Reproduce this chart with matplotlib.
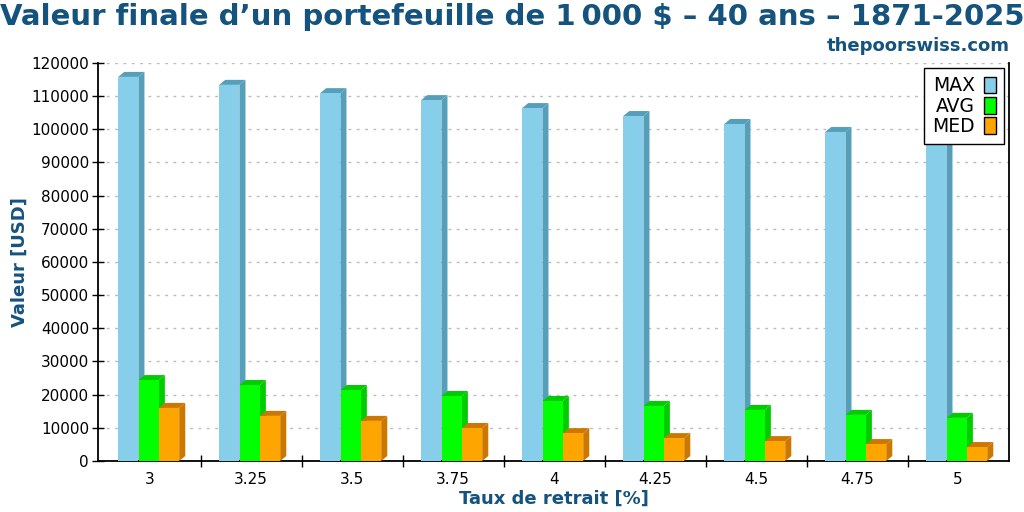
import matplotlib
matplotlib.use('Agg')
from matplotlib import pyplot as plt
from matplotlib.patches import Polygon, Patch
import numpy as np

# values
rates = ['3', '3.25', '3.5', '3.75', '4', '4.25', '4.5', '4.75', '5']
max_vals = [115800, 113400, 110900, 108800, 106400, 104000, 101600, 99200, 96800]
avg_vals = [24400, 22900, 21400, 19600, 18100, 16600, 15400, 13900, 13000]
med_vals = [16000, 13600, 12100, 9950, 8400, 6900, 6000, 5100, 4200]

series = [('MAX', max_vals, '#87ceeb', '#569fbb'),
          ('AVG', avg_vals, '#00ff00', '#00cc00'),
          ('MED', med_vals, '#ffa500', '#cc7700')]

blue = '#15537f'
width = 0.2
dx = 0.06      # depth in x (data units)
dy = 1510      # depth in y (data units)

fig = plt.figure(figsize=(10.24, 5.12), dpi=100)
ax = fig.add_axes([0.0957, 0.0996, 0.8897, 0.7774])

x = np.arange(len(rates))
z = 2
for i, (name, vals, front, dark) in enumerate(series):
    for xc, h in zip(x, vals):
        x0 = xc - 0.315 + i * 0.202
        x1 = x0 + width
        side = Polygon([(x1, 0), (x1 + dx, dy), (x1 + dx, h + dy), (x1, h)],
                       closed=True, facecolor=dark, edgecolor='none', zorder=z)
        top = Polygon([(x0, h), (x1, h), (x1 + dx, h + dy), (x0 + dx, h + dy)],
                      closed=True, facecolor=dark, edgecolor='none', zorder=z)
        ax.add_patch(side)
        ax.add_patch(top)
    ax.bar(x - 0.315 + i * 0.202, vals, width=width, align='edge',
           color=front, zorder=z + 1)
    z += 2

ax.set_xlim(-0.515, 8.505)
ax.set_ylim(0, 120000)
ax.set_yticks(np.arange(0, 120001, 10000))
ax.set_xticks(x)
ax.set_xticklabels(rates)
ax.set_xticks(np.arange(0.5, 8, 1), minor=True)
ax.tick_params(axis='x', which='major', length=0, labelsize=11, pad=8)
ax.tick_params(axis='x', which='minor', direction='inout', length=9, width=1)
ax.tick_params(axis='y', direction='inout', length=9, width=1, labelsize=11, pad=2)
ax.grid(axis='y', linestyle=(0, (2, 4)), color='#bbbbbb', linewidth=1, zorder=0)
ax.set_axisbelow(True)
ax.spines['top'].set_visible(False)
for s in ['left', 'right', 'bottom']:
    ax.spines[s].set_linewidth(1.3)

ax.set_xlabel('Taux de retrait [%]', fontsize=13, fontweight='bold', color=blue, labelpad=2)
ax.set_ylabel('Valeur [USD]', fontsize=13, fontweight='bold', color=blue, labelpad=2)

handles = [Patch(facecolor=c, edgecolor='black', label=n) for n, _, c, _ in series]
leg = ax.legend(handles=handles, loc='upper right', markerfirst=False, fontsize=13.5,
                handlelength=0.6, handleheight=1.0, handletextpad=0.5,
                labelspacing=0.07, borderpad=0.45, borderaxespad=0, fancybox=False,
                edgecolor='black', framealpha=1, bbox_to_anchor=(0.9945, 0.9874))
leg.get_frame().set_linewidth(1)
for t in leg.get_texts():
    t.set_ha('center')

fig.text(0.5, 0.995, 'Valeur finale d\u2019un portefeuille de 1\u202f000 $ \u2013 40 ans \u2013 1871-2025',
         ha='center', va='top', fontsize=21, fontweight='bold', color=blue)
fig.text(0.986, 0.91, 'thepoorswiss.com', ha='right', va='center',
         fontsize=13, fontweight='bold', color=blue)

fig.savefig('out.png', dpi=100)
